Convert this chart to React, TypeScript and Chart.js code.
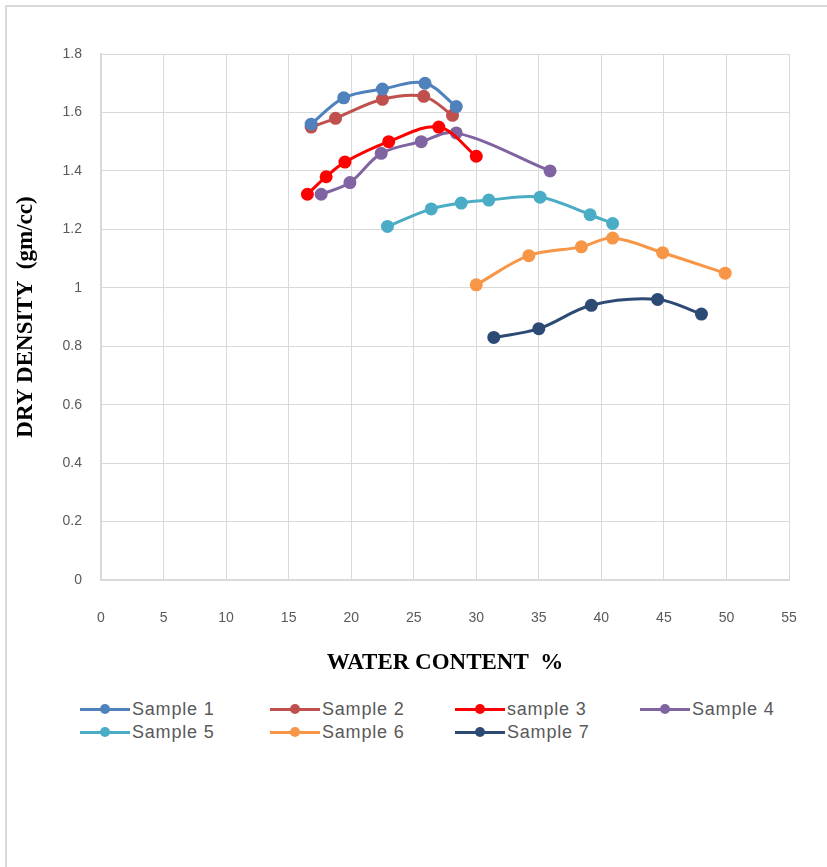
import React, { useEffect, useRef } from "react";
import { Chart, registerables } from "chart.js";

Chart.register(...registerables);

const seriesNames = ["Sample 1", "Sample 2", "sample 3", "Sample 4", "Sample 5", "Sample 6", "Sample 7"];
const seriesColors = ["#4F81BD", "#C0504D", "#FF0000", "#8064A2", "#4BACC6", "#F79646", "#2C4A74"];

const s1x = [16.8, 19.4, 22.5, 25.9, 28.4];
const s1y = [1.56, 1.65, 1.68, 1.70, 1.62];
const s2x = [16.8, 18.75, 22.5, 25.8, 28.1];
const s2y = [1.55, 1.58, 1.645, 1.655, 1.59];
const s3x = [16.5, 18.0, 19.5, 23.0, 27.0, 30.0];
const s3y = [1.32, 1.38, 1.43, 1.50, 1.55, 1.45];
const s4x = [17.6, 19.9, 22.4, 25.6, 28.4, 35.9];
const s4y = [1.32, 1.36, 1.46, 1.50, 1.53, 1.40];
const s5x = [22.9, 26.4, 28.8, 31.0, 35.1, 39.1, 40.9];
const s5y = [1.21, 1.27, 1.29, 1.30, 1.31, 1.25, 1.22];
const s6x = [30.0, 34.2, 38.4, 40.9, 44.9, 49.9];
const s6y = [1.01, 1.11, 1.14, 1.17, 1.12, 1.05];
const s7x = [31.4, 35.0, 39.2, 44.5, 48.0];
const s7y = [0.83, 0.86, 0.94, 0.96, 0.91];

const allX = [s1x, s2x, s3x, s4x, s5x, s6x, s7x];
const allY = [s1y, s2y, s3y, s4y, s5y, s6y, s7y];

const xTitle = "WATER CONTENT  %";
const yTitle = "DRY DENSITY  (gm/cc)";

const legendCols = [80, 270, 455, 640];
const legendRows = [709, 732];

export default function App() {
  const ref = useRef<HTMLCanvasElement | null>(null);
  useEffect(() => {
    if (!ref.current) return;
    const datasets = seriesNames.map((name, i) => ({
      label: name,
      data: allX[i].map((x, j) => ({ x, y: allY[i][j] })),
      borderColor: seriesColors[i],
      backgroundColor: seriesColors[i],
      borderWidth: 3,
      pointRadius: 6.5,
      pointHoverRadius: 6.5,
      pointBorderWidth: 0,
      tension: 0.35,
      showLine: true,
      fill: false,
    }));
    const chart = new Chart(ref.current, {
      type: "scatter",
      data: { datasets },
      options: {
        animation: false,
        responsive: false,
        maintainAspectRatio: false,
        layout: { padding: { left: 0, top: 54, right: 38, bottom: 0 } },
        plugins: { legend: { display: false }, tooltip: { enabled: false } },
        scales: {
          x: {
            type: "linear",
            min: 0,
            max: 55,
            ticks: { stepSize: 5, color: "#595959", font: { family: "Liberation Sans", size: 14 }, padding: 30 },
            grid: { color: "#d9d9d9", lineWidth: 1, drawTicks: false },
            border: { color: "#d9d9d9", width: 2 },
            title: {
              display: true,
              text: xTitle,
              color: "#000",
              font: { family: "Liberation Serif", size: 23, weight: "bold" },
              padding: { top: 0, bottom: 13 },
            },
            afterFit: (s: any) => { s.height = 110; },
          },
          y: {
            type: "linear",
            min: 0,
            max: 1.8,
            ticks: {
              stepSize: 0.2,
              color: "#595959",
              font: { family: "Liberation Sans", size: 14 },
              padding: 19,
              callback: (v: any) => String(+Number(v).toFixed(1)),
            },
            grid: { color: "#d9d9d9", lineWidth: 1, drawTicks: false },
            border: { color: "#d9d9d9", width: 2 },
            title: {
              display: true,
              text: yTitle,
              color: "#000",
              font: { family: "Liberation Serif", size: 23, weight: "bold" },
              padding: { top: 12, bottom: 0 },
            },
            afterFit: (s: any) => { s.width = 101; },
          },
        },
      },
    });
    return () => chart.destroy();
  }, []);

  return (
    <div style={{ position: "fixed", inset: 0, overflow: "hidden", background: "#fff" }}>
      <div
        style={{
          position: "absolute",
          left: 5,
          top: 5,
          width: 900,
          height: 900,
          border: "2px solid #d9d9d9",
          boxSizing: "border-box",
        }}
      />
      <canvas ref={ref} width={827} height={690} style={{ position: "absolute", left: 0, top: 0, width: 827, height: 690 }} />
      {seriesNames.map((name, i) => {
        const col = i % 4;
        const row = Math.floor(i / 4);
        return (
          <div
            key={name}
            style={{
              position: "absolute",
              left: legendCols[col],
              top: legendRows[row] - 10,
              height: 20,
              display: "flex",
              alignItems: "center",
              fontFamily: "Liberation Sans",
              fontSize: 18,
              letterSpacing: 0.8,
              color: "#595959",
              whiteSpace: "nowrap",
            }}
          >
            <div style={{ position: "relative", width: 50, height: 20, marginRight: 2 }}>
              <div style={{ position: "absolute", left: 0, top: 8.5, width: 50, height: 3, background: seriesColors[i] }} />
              <div
                style={{
                  position: "absolute",
                  left: 20,
                  top: 5,
                  width: 10,
                  height: 10,
                  borderRadius: 5,
                  background: seriesColors[i],
                }}
              />
            </div>
            <span>{name}</span>
          </div>
        );
      })}
    </div>
  );
}
